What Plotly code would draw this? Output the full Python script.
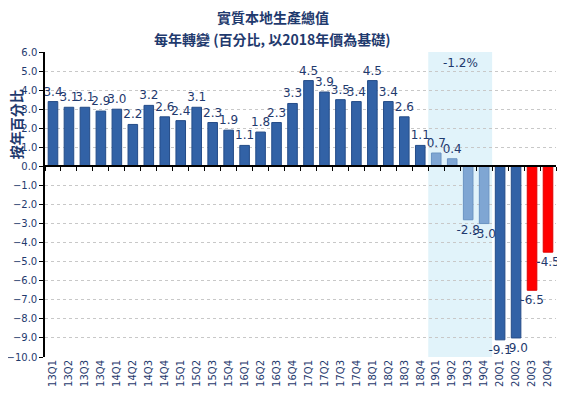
import plotly.graph_objects as go

quarters = ["13Q1","13Q2","13Q3","13Q4","14Q1","14Q2","14Q3","14Q4",
            "15Q1","15Q2","15Q3","15Q4","16Q1","16Q2","16Q3","16Q4",
            "17Q1","17Q2","17Q3","17Q4","18Q1","18Q2","18Q3","18Q4",
            "19Q1","19Q2","19Q3","19Q4","20Q1","20Q2","20Q3","20Q4"]
growth = [3.4,3.1,3.1,2.9,3.0,2.2,3.2,2.6,
          2.4,3.1,2.3,1.9,1.1,1.8,2.3,3.3,
          4.5,3.9,3.5,3.4,4.5,3.4,2.6,1.1,
          0.7,0.4,-2.8,-3.0,-9.1,-9.0,-6.5,-4.5]
groups = ["past"]*24 + ["2019"]*4 + ["covid"]*2 + ["forecast"]*2
annual_2019_label = "-1.2%"
y_ticks = [6,5,4,3,2,1,0,-1,-2,-3,-4,-5,-6,-7,-8,-9,-10]
title_line1 = "實質本地生產總值"
title_line2 = "每年轉變 (百分比, 以2018年價為基礎)"
y_title = "按年百分比"

fill_map = {"past": "#3262A6", "2019": "#7FA6D3", "covid": "#3262A6", "forecast": "#FF0000"}
line_map = {"past": "#244C88", "2019": "#6A93C2", "covid": "#244C88", "forecast": "#E00000"}

navy = "#1F3A6E"
font_fam = "DejaVu Sans, Verdana, sans-serif"
cjk = "Noto Sans CJK TC, DejaVu Sans"

fig = go.Figure()
fig.add_trace(go.Bar(
    x=quarters, y=growth,
    marker=dict(color=[fill_map[g] for g in groups],
                line=dict(color=[line_map[g] for g in groups], width=1)),
    width=0.6,
    text=[f"{v:.1f}" for v in growth],
    textposition="outside",
    constraintext="none",
    textangle=0,
    textfont=dict(color=navy, size=12, family=font_fam),
    cliponaxis=False,
    showlegend=False,
    xaxis="x", yaxis="y",
))
fig.add_trace(go.Scatter(x=quarters, y=[0]*len(quarters), mode="markers",
                         marker=dict(opacity=0), xaxis="x2", yaxis="y",
                         showlegend=False, hoverinfo="skip"))

i0 = groups.index("2019")
i1 = len(groups) - 1 - groups[::-1].index("2019")
fig.add_shape(type="rect", xref="x", yref="y", x0=i0-0.5, x1=i1+0.5, y0=-10, y1=6,
              fillcolor="#E1F3FA", line=dict(width=0), layer="below")
fig.add_annotation(x=(i0+i1)/2, y=5.4, xref="x", yref="y", text=annual_2019_label,
                   showarrow=False, font=dict(color=navy, size=12, family=font_fam))

fig.add_annotation(x=0.446, y=1.116, xref="paper", yref="paper", text=f"<b>{title_line1}</b>",
                   showarrow=False, xanchor="center", yanchor="middle",
                   font=dict(color=navy, size=14, family=cjk))
fig.add_annotation(x=0.446, y=1.043, xref="paper", yref="paper", text=f"<b>{title_line2}</b>",
                   showarrow=False, xanchor="center", yanchor="middle",
                   font=dict(color=navy, size=14, family=cjk))
fig.add_annotation(x=-0.056, y=0.764, xref="paper", yref="paper", text=f"<b>{y_title}</b>",
                   showarrow=False, textangle=-90, xanchor="center", yanchor="middle",
                   font=dict(color=navy, size=14, family=cjk))

fig.update_layout(
    width=557, height=386,
    margin=dict(l=37, r=9, t=44, b=37, autoexpand=False),
    paper_bgcolor="white", plot_bgcolor="white",
    xaxis=dict(type="category", categoryorder="array", categoryarray=quarters,
               tickangle=-90, tickfont=dict(color=navy, size=10, family=font_fam),
               showgrid=False, showline=False, ticks="", automargin=False,
               range=[-0.5, len(quarters)-0.5]),
    xaxis2=dict(type="category", categoryorder="array", categoryarray=quarters,
                overlaying="x", anchor="free", position=10/16, side="bottom",
                showticklabels=False, showline=True, linecolor="black", linewidth=1.5,
                ticks="outside", tickson="boundaries", ticklen=4, tickcolor="black",
                showgrid=False, automargin=False, range=[-0.5, len(quarters)-0.5]),
    yaxis=dict(range=[-10, 6], tickvals=y_ticks, tickformat=".1f",
               tickfont=dict(color=navy, size=10, family=font_fam),
               showgrid=True, gridcolor="#C8C8C8", griddash="dot", gridwidth=1,
               showline=True, linecolor="black", linewidth=1.5, automargin=False,
               ticks="outside", ticklen=4, tickcolor="black", zeroline=False),
)

fig.write_html("out.html")
